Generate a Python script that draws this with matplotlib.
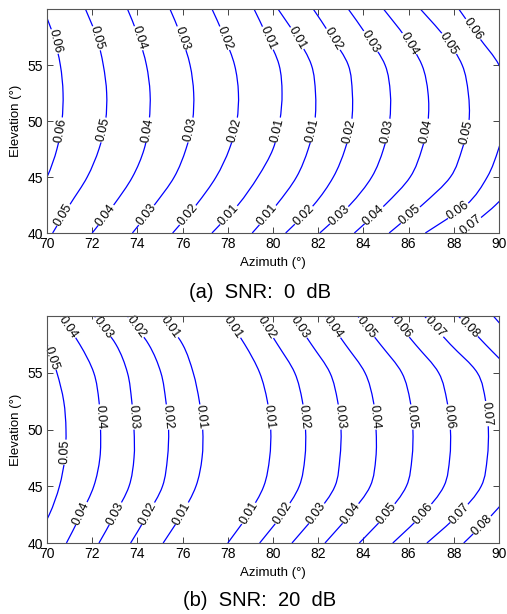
import numpy as np
import matplotlib
matplotlib.use("Agg")
import matplotlib.pyplot as plt
from matplotlib.path import Path
from matplotlib.patches import PathPatch

elev = [40, 42.5, 45, 47.5, 50, 52.5, 55, 57.5, 60]

# (a) SNR: 0 dB
a_levels = [0.06, 0.05, 0.04, 0.03, 0.02, 0.01, 0.01, 0.02, 0.03, 0.04, 0.05, 0.06, 0.07]
a_azimuth = [
    [68.5, 69.3, 70.0, 70.44, 70.66, 70.71, 70.59, 70.3, 69.85],
    [70.25, 71.0, 71.78, 72.30, 72.59, 72.64, 72.49, 72.2, 71.70],
    [72.0, 72.95, 73.78, 74.30, 74.52, 74.56, 74.40, 74.05, 73.56],
    [73.78, 74.75, 75.63, 76.15, 76.44, 76.49, 76.33, 75.95, 75.44],
    [75.56, 76.6, 77.48, 78.07, 78.40, 78.47, 78.30, 77.85, 77.30],
    [77.30, 78.45, 79.33, 80.0, 80.30, 80.40, 80.27, 79.75, 79.16],
    [79.08, 80.15, 81.04, 81.56, 81.85, 81.88, 81.70, 81.05, 80.22],
    [80.56, 81.8, 82.67, 83.19, 83.48, 83.51, 83.33, 82.6, 81.78],
    [82.07, 83.4, 84.37, 84.89, 85.16, 85.19, 84.96, 84.2, 83.33],
    [83.6, 84.95, 86.07, 86.59, 86.86, 86.86, 86.59, 85.85, 84.89],
    [85.14, 86.6, 87.85, 88.37, 88.67, 88.64, 88.37, 87.6, 86.52],
    [86.74, 88.55, 89.48, 89.98, 90.3, 90.35, 90.0, 89.1, 88.22],
    [88.33, 89.85, 90.9, 91.5, 91.8, 91.85, 91.6, 90.9, 90.2],
]
# (contour index, elevation of label)
a_label_pos = [
    (0, 57.1), (0, 49.2),
    (1, 57.4), (1, 49.2), (1, 41.6),
    (2, 57.4), (2, 49.2), (2, 41.6),
    (3, 57.4), (3, 49.2), (3, 41.6),
    (4, 57.4), (4, 49.2), (4, 41.6),
    (5, 57.4), (5, 49.2), (5, 41.6),
    (6, 57.4), (6, 49.2), (6, 41.6),
    (7, 57.3), (7, 49.1), (7, 41.6),
    (8, 57.1), (8, 49.1), (8, 41.6),
    (9, 56.9), (9, 49.1), (9, 41.6),
    (10, 56.9), (10, 49.0), (10, 41.6),
    (11, 58.2), (11, 42.0),
    (12, 40.7),
]

# (b) SNR: 20 dB
b_levels = [0.05, 0.04, 0.03, 0.02, 0.01, 0.01, 0.02, 0.03, 0.04, 0.05, 0.06, 0.07, 0.08, 0.09]
b_azimuth = [
    [69.4, 70.1, 70.55, 70.79, 70.84, 70.74, 70.44, 70.0, 69.3],
    [70.86, 71.5, 72.07, 72.34, 72.37, 72.30, 72.07, 71.45, 70.6],
    [72.30, 73.0, 73.63, 73.85, 73.85, 73.75, 73.56, 73.05, 72.1],
    [73.70, 74.45, 75.11, 75.33, 75.38, 75.26, 75.04, 74.5, 73.56],
    [75.14, 75.95, 76.59, 76.86, 76.89, 76.74, 76.47, 76.0, 75.1],
    [78.0, 78.9, 79.59, 79.85, 79.90, 79.75, 79.41, 78.75, 77.9],
    [79.41, 80.4, 81.16, 81.41, 81.44, 81.30, 80.96, 80.2, 79.4],
    [80.84, 81.9, 82.74, 82.96, 83.01, 82.86, 82.52, 81.7, 80.85],
    [82.30, 83.4, 84.30, 84.55, 84.56, 84.44, 84.07, 83.2, 82.3],
    [83.82, 85.0, 85.90, 86.15, 86.19, 86.07, 85.70, 84.75, 83.75],
    [85.30, 86.6, 87.56, 87.82, 87.85, 87.70, 87.33, 86.3, 85.25],
    [86.81, 88.2, 89.21, 89.48, 89.53, 89.41, 89.04, 87.85, 86.7],
    [88.44, 89.7, 90.7, 91.0, 91.1, 91.0, 90.55, 89.4, 88.2],
    [90.1, 91.2, 92.2, 92.5, 92.6, 92.5, 92.0, 90.85, 89.75],
]
b_label_pos = [
    (0, 56.3), (0, 48.0),
    (1, 59.0), (1, 51.1), (1, 42.6),
    (2, 59.0), (2, 51.1), (2, 42.6),
    (3, 59.0), (3, 51.1), (3, 42.6),
    (4, 59.0), (4, 51.1), (4, 42.6),
    (5, 59.0), (5, 51.1), (5, 42.6),
    (6, 59.0), (6, 51.1), (6, 42.6),
    (7, 59.0), (7, 51.1), (7, 42.6),
    (8, 59.0), (8, 51.1), (8, 42.6),
    (9, 59.0), (9, 51.1), (9, 42.6),
    (10, 59.0), (10, 51.1), (10, 42.6),
    (11, 59.0), (11, 51.4), (11, 42.6),
    (12, 59.0), (12, 41.6),
]

xticks = [70, 72, 74, 76, 78, 80, 82, 84, 86, 88, 90]
yticks = [40, 45, 50, 55]

plt.rcParams['font.family'] = ['Liberation Sans', 'DejaVu Sans']


def smooth_path(az):
    # Catmull-Rom through the read points, drawn as cubic Bezier segments
    pts = np.column_stack([az, elev]).astype(float)
    n = len(pts)
    verts = [pts[0]]
    codes = [Path.MOVETO]
    for i in range(n - 1):
        p0 = pts[max(i - 1, 0)]
        p1 = pts[i]
        p2 = pts[i + 1]
        p3 = pts[min(i + 2, n - 1)]
        verts += [p1 + (p2 - p0) / 6, p2 - (p3 - p1) / 6, p2]
        codes += [Path.CURVE4] * 3
    return Path(verts, codes)


def draw_panel(ax, levels, azimuths, label_pos):
    ax.set_xlim(70, 90)
    ax.set_ylim(40, 60)
    for az in azimuths:
        ax.add_patch(PathPatch(smooth_path(az), fill=False, edgecolor='blue',
                               lw=0.9, zorder=2))

    # inline contour labels, rotated along the line
    for idx, el in label_pos:
        az = azimuths[idx]
        x = np.interp(el, elev, az)
        p0 = ax.transData.transform((np.interp(el - 0.3, elev, az), el - 0.3))
        p1 = ax.transData.transform((np.interp(el + 0.3, elev, az), el + 0.3))
        ang = np.degrees(np.arctan2(p1[1] - p0[1], p1[0] - p0[0]))
        if ang > 90:
            ang -= 180
        elif ang <= -90:
            ang += 180
        ax.text(x, el, '%.2f' % levels[idx], rotation=ang, rotation_mode='anchor',
                ha='center', va='center', fontsize=9, zorder=2.4,
                bbox=dict(facecolor='white', edgecolor='none', pad=0.4))

    ax.set_xticks(xticks)
    ax.set_yticks(yticks)
    ax.tick_params(direction='in', top=True, right=True, length=4, width=0.7,
                   color='#444444', labelsize=10, pad=3)
    for s in ax.spines.values():
        s.set_color('#555555')
        s.set_linewidth(0.8)
    ax.set_xlabel('Azimuth (°)', fontsize=9.5, labelpad=4)
    ax.set_ylabel('Elevation (°)', fontsize=9.5, labelpad=4)


def main():
    fig = plt.figure(figsize=(5.07, 6.14), dpi=100)
    ax_a = fig.add_axes([0.0927, 0.6205, 0.8915, 0.3648])
    ax_b = fig.add_axes([0.0927, 0.1156, 0.8915, 0.3697])

    draw_panel(ax_a, a_levels, a_azimuth, a_label_pos)
    draw_panel(ax_b, b_levels, b_azimuth, b_label_pos)

    fig.text(0.512, 1 - 293 / 614, '(a)  SNR:  0  dB', ha='center', va='center', fontsize=14.5)
    fig.text(0.512, 1 - 600 / 614, '(b)  SNR:  20  dB', ha='center', va='center', fontsize=14.5)

    fig.savefig('out.png', dpi=100)


if __name__ == "__main__":
    main()
